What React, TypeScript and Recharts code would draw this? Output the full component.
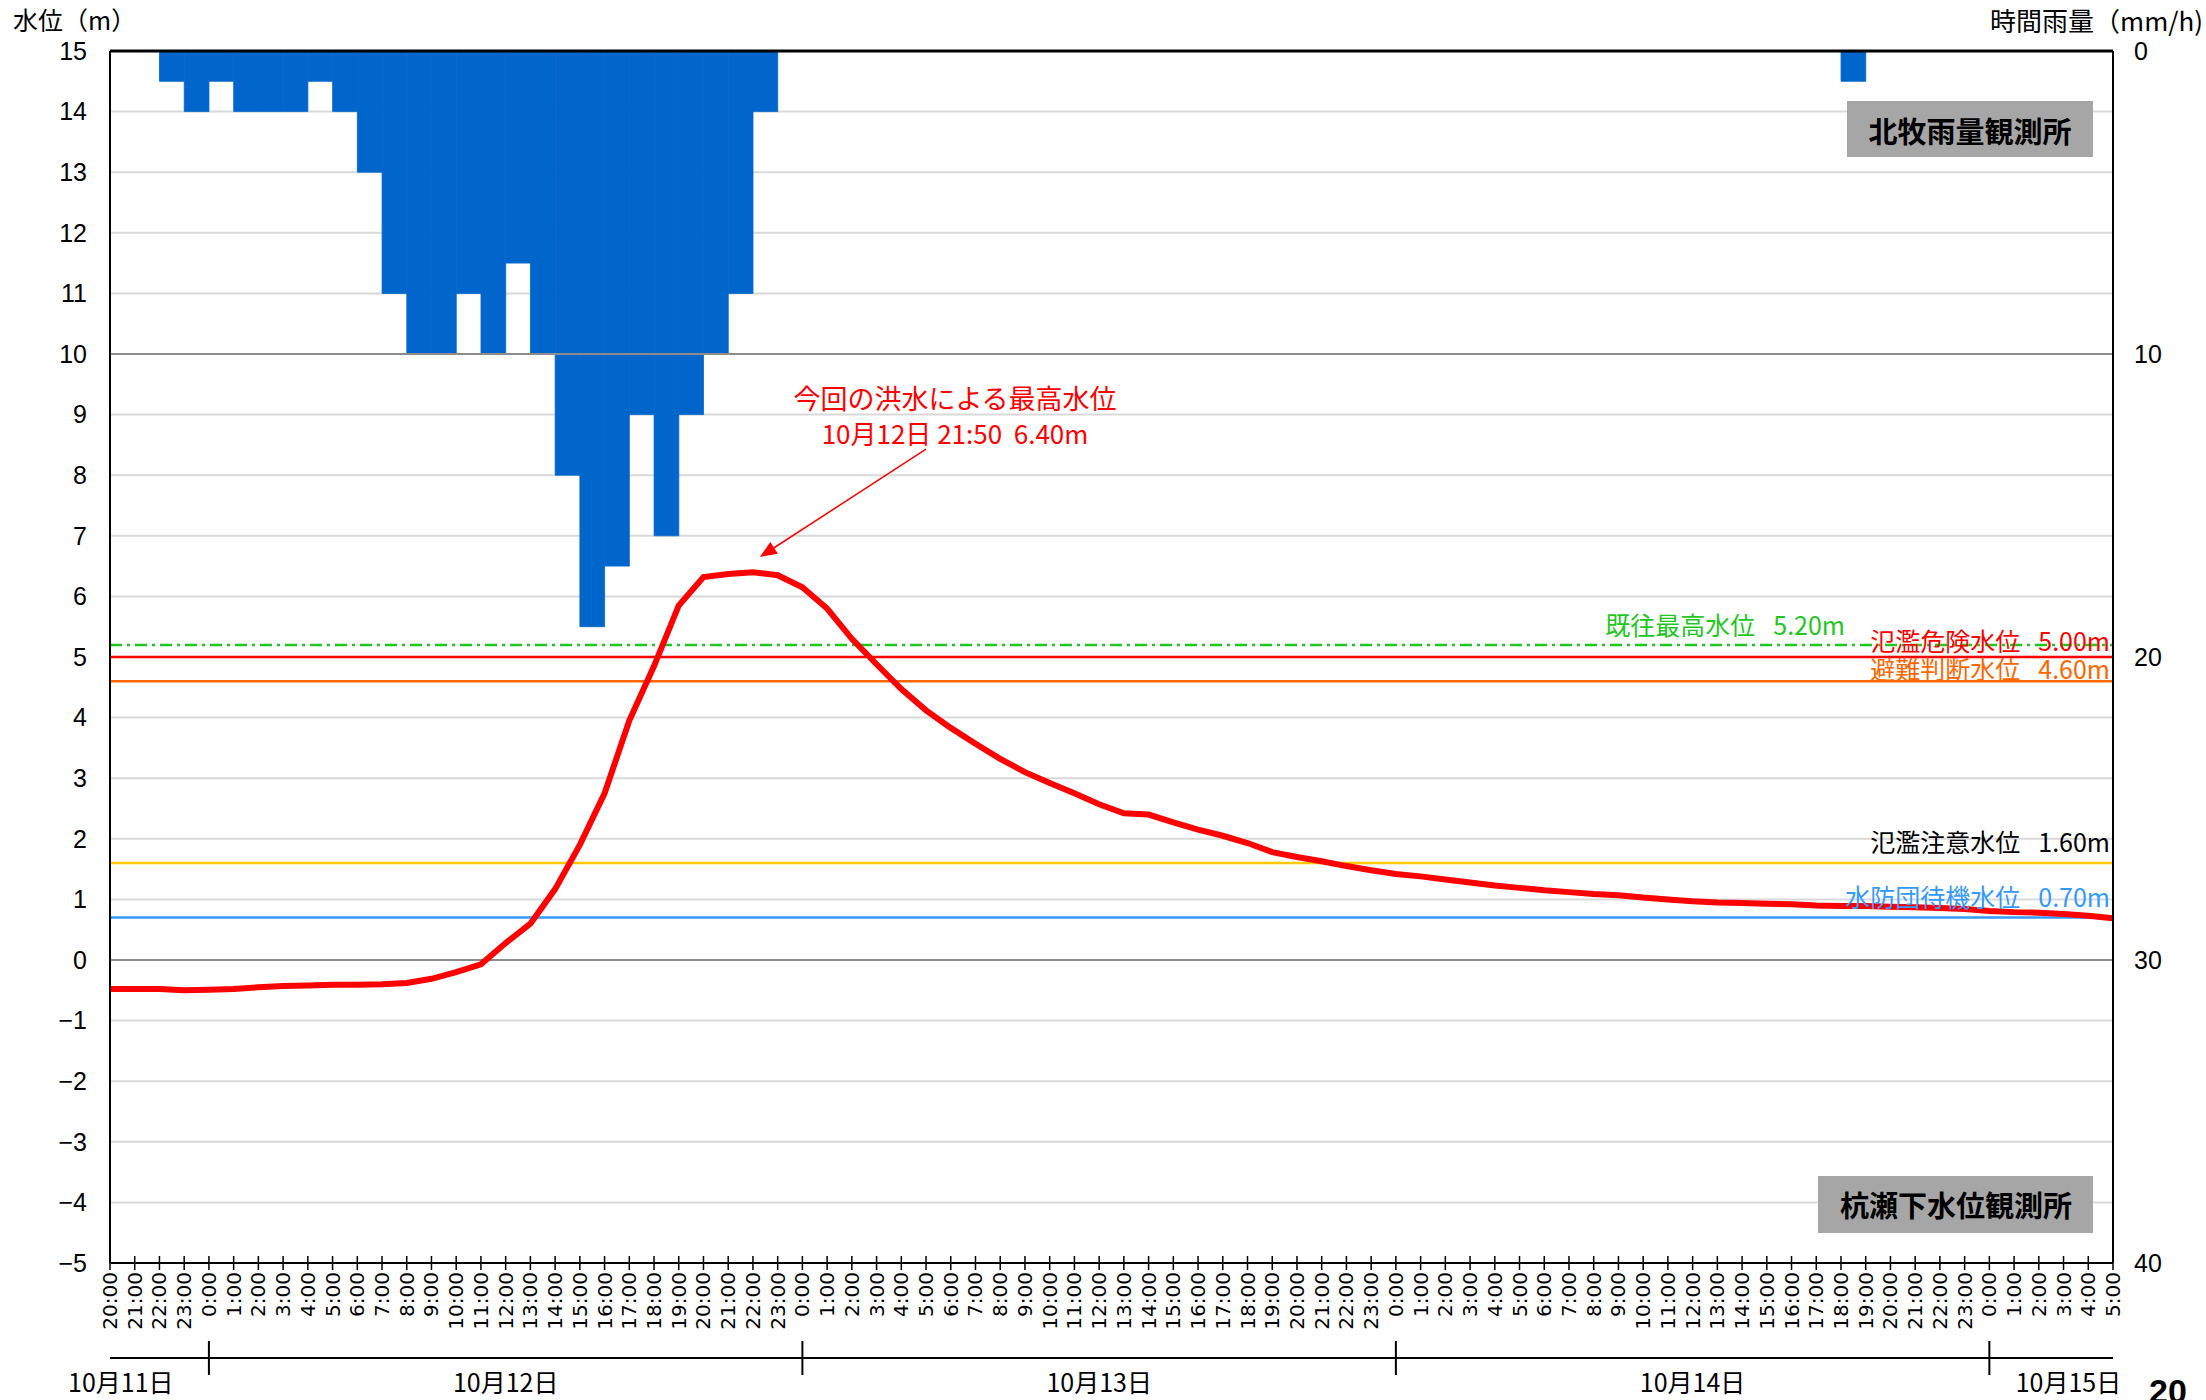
import React from 'react';
import { ComposedChart, Line, Bar, XAxis, YAxis, CartesianGrid, ReferenceLine, Rectangle } from 'recharts';

// ---- data ----
// hourly tick labels from 10/11 20:00 to 10/15 5:00
const hourLabels: string[] = Array.from({ length: 82 }, (_, i) => `${(20 + i) % 24}:00`);

// water level (m) at each hour mark, 杭瀬下水位観測所
const waterLevel: number[] = [
  -0.48, -0.48, -0.48, -0.5, -0.49, -0.48, -0.45, -0.43, -0.42, -0.41,
  -0.41, -0.4, -0.38, -0.31, -0.2, -0.07, 0.28, 0.6, 1.17, 1.9,
  2.75, 3.95, 4.85, 5.85, 6.32, 6.37, 6.4, 6.35, 6.15, 5.8,
  5.3, 4.88, 4.47, 4.12, 3.83, 3.57, 3.32, 3.1, 2.92, 2.75,
  2.57, 2.42, 2.4, 2.27, 2.15, 2.05, 1.93, 1.78, 1.7, 1.63,
  1.55, 1.48, 1.42, 1.38, 1.33, 1.28, 1.23, 1.19, 1.15, 1.12,
  1.09, 1.07, 1.03, 1.0, 0.97, 0.95, 0.94, 0.93, 0.92, 0.9,
  0.89, 0.89, 0.88, 0.87, 0.86, 0.84, 0.81, 0.79, 0.78, 0.76,
  0.73, 0.69,
];

// hourly rainfall (mm/h) for each hour interval, 北牧雨量観測所
const rainfall: number[] = [
  0, 0, 1, 2, 1, 2, 2, 2, 1, 2,
  4, 8, 10, 10, 8, 10, 7, 10, 14, 19,
  17, 12, 16, 12, 10, 8, 2, 0, 0, 0,
  0, 0, 0, 0, 0, 0, 0, 0, 0, 0,
  0, 0, 0, 0, 0, 0, 0, 0, 0, 0,
  0, 0, 0, 0, 0, 0, 0, 0, 0, 0,
  0, 0, 0, 0, 0, 0, 0, 0, 0, 0,
  1, 0, 0, 0, 0, 0, 0, 0, 0, 0,
  0,
];

const levelTicks: number[] = [-5, -4, -3, -2, -1, 0, 1, 2, 3, 4, 5, 6, 7, 8, 9, 10, 11, 12, 13, 14, 15];
const rainTicks: number[] = [0, 10, 20, 30, 40];

const dayLabels: string[] = ['10月11日', '10月12日', '10月13日', '10月14日', '10月15日'];
const dayBoundaries: number[] = [4, 28, 52, 76];

const thresholdNames: string[] = ['既往最高水位', '氾濫危険水位', '避難判断水位', '氾濫注意水位', '水防団待機水位'];
const thresholdValues: number[] = [5.2, 5.0, 4.6, 1.6, 0.7];

const peakTitle = '今回の洪水による最高水位';
const peakText = '10月12日 21:50  6.40m';

// ---- styles ----
const thresholdStyles = [
  { stroke: '#1ec81e', text: '#1ec81e', dash: '12 5 3 5', labelEndOffset: 268, labelLift: 10 },
  { stroke: '#ff0000', text: '#ff0000', dash: undefined, labelEndOffset: 3, labelLift: 6 },
  { stroke: '#ff6600', text: '#ff6600', dash: undefined, labelEndOffset: 3, labelLift: 2 },
  { stroke: '#ffc800', text: '#000000', dash: undefined, labelEndOffset: 3, labelLift: 11 },
  { stroke: '#3399ff', text: '#3399ff', dash: undefined, labelEndOffset: 3, labelLift: 11 },
];

const W = 2206;
const H = 1400;
const MARGIN = { top: 51, right: 33, left: 50, bottom: 5 };
const Y_AXIS_W = 60;
const PLOT_W = W - MARGIN.left - MARGIN.right - 2 * Y_AXIS_W;
const HOURS = hourLabels.length - 1;
const BAR_W = PLOT_W / HOURS;

const CJK = '"Noto Sans CJK JP", "Noto Sans", sans-serif';
const NUM = '"Liberation Sans", Arial, sans-serif';

const chartData: { x: number; level: number | null; rain: number | null }[] = [];
for (let i = 0; i < hourLabels.length; i++) {
  chartData.push({ x: i, level: waterLevel[i], rain: null });
  if (i < HOURS) chartData.push({ x: i + 0.5, level: null, rain: rainfall[i] > 0 ? rainfall[i] : null });
}

const hourTickValues = hourLabels.map((_, i) => i);
const dayLabelTicks = [
  0.44,
  (dayBoundaries[0] + dayBoundaries[1]) / 2,
  (dayBoundaries[1] + dayBoundaries[2]) / 2,
  (dayBoundaries[2] + dayBoundaries[3]) / 2,
  79.2,
];

const HourTick = (props: any) => {
  const { x, y, payload } = props;
  const ty = y + 9;
  return (
    <g>
      <line x1={x} x2={x} y1={y - 7} y2={y + 7} stroke="#000" strokeWidth={1.5} />
      <text
        x={x}
        y={ty}
        transform={`rotate(-90 ${x} ${ty})`}
        textAnchor="end"
        dominantBaseline="central"
        fontSize={20}
        fontFamily='"DejaVu Sans", sans-serif'
        fill="#000"
      >
        {hourLabels[payload.value]}
      </text>
    </g>
  );
};

const DayTick = (props: any) => {
  const { x, y, payload } = props;
  const v = payload.value;
  if (dayBoundaries.indexOf(v) >= 0) {
    return <line x1={x} x2={x} y1={y - 17} y2={y + 17} stroke="#000" strokeWidth={2} />;
  }
  const idx = dayLabelTicks.indexOf(v);
  return (
    <text x={x} y={y + 23} textAnchor="middle" dominantBaseline="central" fontSize={25} fontFamily={CJK} fill="#000">
      {dayLabels[idx]}
    </text>
  );
};

const minusFmt = (v: number) => (v < 0 ? `\u2212${Math.abs(v)}` : String(v));

const makeThresholdLabel = (i: number) => (props: any) => {
  const vb = props.viewBox || {};
  const st = thresholdStyles[i];
  const xEnd = vb.x + vb.width - st.labelEndOffset;
  const yb = vb.y - st.labelLift;
  return (
    <text x={xEnd} y={yb} textAnchor="end" fontSize={25} fontFamily={CJK} fill={st.text}>
      <tspan>{thresholdNames[i]}</tspan>
      <tspan dx={18}>{thresholdValues[i].toFixed(2)}m</tspan>
    </text>
  );
};

const RainBarShape = (props: any) => {
  const { x, width } = props;
  if (typeof x !== 'number' || typeof width !== 'number') return null;
  const cx = x + width / 2;
  return <Rectangle {...props} x={cx - BAR_W / 2} width={BAR_W} />;
};

const ArrowShape = (props: any) => {
  const x1 = props.x1 ?? props.points?.[0]?.x;
  const y1 = props.y1 ?? props.points?.[0]?.y;
  const x2 = props.x2 ?? props.points?.[1]?.x;
  const y2 = props.y2 ?? props.points?.[1]?.y;
  if ([x1, y1, x2, y2].some((v) => typeof v !== 'number' || isNaN(v))) return null;
  const ang = Math.atan2(y2 - y1, x2 - x1);
  const len = 17;
  const half = 7;
  const bx = x2 - len * Math.cos(ang);
  const by = y2 - len * Math.sin(ang);
  const px = -Math.sin(ang) * half;
  const py = Math.cos(ang) * half;
  return (
    <g>
      <line x1={x1} y1={y1} x2={bx} y2={by} stroke="#ff0000" strokeWidth={1.5} />
      <polygon points={`${x2},${y2} ${bx + px},${by + py} ${bx - px},${by - py}`} fill="#ff0000" />
    </g>
  );
};

export default function App() {
  return (
    <div style={{ position: 'absolute', left: 0, top: 0, width: W, height: H, background: '#fff', fontFamily: CJK }}>
      <ComposedChart width={W} height={H} data={chartData} margin={MARGIN}>
        <CartesianGrid xAxisId="a" yAxisId="wl" horizontal vertical={false} stroke="#d9d9d9" strokeWidth={2} />
        {/* hour axis ("a") sits next to the plot, day axis ("b") below it */}
        <XAxis
          xAxisId="a"
          dataKey="x"
          type="number"
          domain={[0, HOURS]}
          allowDataOverflow
          ticks={hourTickValues}
          interval={0}
          height={95}
          tickSize={0}
          tickMargin={0}
          tickLine={false}
          axisLine={{ stroke: '#000', strokeWidth: 2 }}
          tick={<HourTick />}
        />
        <XAxis
          xAxisId="b"
          dataKey="x"
          type="number"
          domain={[0, HOURS]}
          allowDataOverflow
          ticks={[...dayBoundaries, ...dayLabelTicks]}
          interval={0}
          height={37}
          tickSize={0}
          tickMargin={0}
          tickLine={false}
          axisLine={{ stroke: '#000', strokeWidth: 2 }}
          tick={<DayTick />}
        />
        <YAxis
          yAxisId="wl"
          orientation="left"
          type="number"
          domain={[-5, 15]}
          allowDataOverflow
          ticks={levelTicks}
          interval={0}
          width={Y_AXIS_W}
          tickSize={0}
          tickMargin={23}
          tickLine={false}
          axisLine={{ stroke: '#000', strokeWidth: 2 }}
          tickFormatter={minusFmt}
          tick={{ fontSize: 25, fill: '#000', fontFamily: NUM }}
        />
        <YAxis
          yAxisId="rain"
          orientation="right"
          type="number"
          domain={[0, 40]}
          reversed
          allowDataOverflow
          ticks={rainTicks}
          interval={0}
          width={Y_AXIS_W}
          tickSize={0}
          tickMargin={21}
          tickLine={false}
          axisLine={{ stroke: '#000', strokeWidth: 2 }}
          tick={{ fontSize: 25, fill: '#000', fontFamily: NUM }}
        />

        {rainTicks.slice(1, 4).map((v) => (
          <ReferenceLine key={`rg${v}`} xAxisId="a" yAxisId="rain" y={v} stroke="#8c8c8c" strokeWidth={2} />
        ))}

        <Bar
          xAxisId="a"
          yAxisId="rain"
          dataKey="rain"
          fill="#0066cc"
          stroke="#0066cc"
          strokeWidth={0.8}
          shape={RainBarShape}
          isAnimationActive={false}
        />

        {thresholdValues.map((v, i) => (
          <ReferenceLine
            key={`th${i}`}
            xAxisId="a"
            yAxisId="wl"
            y={v}
            stroke={thresholdStyles[i].stroke}
            strokeWidth={2.5}
            strokeDasharray={thresholdStyles[i].dash}
          />
        ))}

        <Line
          xAxisId="a"
          yAxisId="wl"
          dataKey="level"
          type="linear"
          stroke="#ff0000"
          strokeWidth={6}
          dot={false}
          activeDot={false}
          connectNulls
          isAnimationActive={false}
        />

        {thresholdValues.map((v, i) => (
          <ReferenceLine
            key={`tl${i}`}
            xAxisId="a"
            yAxisId="wl"
            y={v}
            stroke="none"
            strokeWidth={0}
            label={makeThresholdLabel(i)}
          />
        ))}

        <ReferenceLine xAxisId="a" yAxisId="wl" y={15} stroke="#000" strokeWidth={3} />

        <ReferenceLine
          xAxisId="a"
          yAxisId="wl"
          segment={[{ x: 33.0, y: 8.43 }, { x: 26.28, y: 6.65 }]}
          stroke="#ff0000"
          ifOverflow="visible"
          shape={ArrowShape}
        />
      </ComposedChart>

      <svg width={W} height={H} style={{ position: 'absolute', left: 0, top: 0, pointerEvents: 'none' }}>
        <text x={13} y={19} dominantBaseline="central" fontSize={25} fontFamily={CJK} fill="#000">水位（m）</text>
        <text x={2203} y={19} textAnchor="end" dominantBaseline="central" fontSize={26} fontFamily={CJK} fill="#000">時間雨量（mm/h)</text>

        <text x={955} y={397} textAnchor="middle" dominantBaseline="central" fontSize={27} fontFamily={CJK} fill="#ff0000">{peakTitle}</text>
        <text x={955} y={432} textAnchor="middle" dominantBaseline="central" fontSize={26} fontFamily={CJK} fill="#ff0000" style={{ whiteSpace: 'pre' }}>{peakText}</text>

        <rect x={1847} y={101} width={246} height={56} fill="#a6a6a6" />
        <text x={1970} y={130} textAnchor="middle" dominantBaseline="central" fontSize={29} fontWeight="bold" fontFamily={CJK} fill="#000">北牧雨量観測所</text>

        <rect x={1818} y={1176} width={275} height={57} fill="#a6a6a6" />
        <text x={1956} y={1204} textAnchor="middle" dominantBaseline="central" fontSize={29} fontWeight="bold" fontFamily={CJK} fill="#000">杭瀬下水位観測所</text>

        <text x={2149} y={1403} fontSize={34} fontWeight="bold" fontFamily={NUM} fill="#000">20</text>
      </svg>
    </div>
  );
}
